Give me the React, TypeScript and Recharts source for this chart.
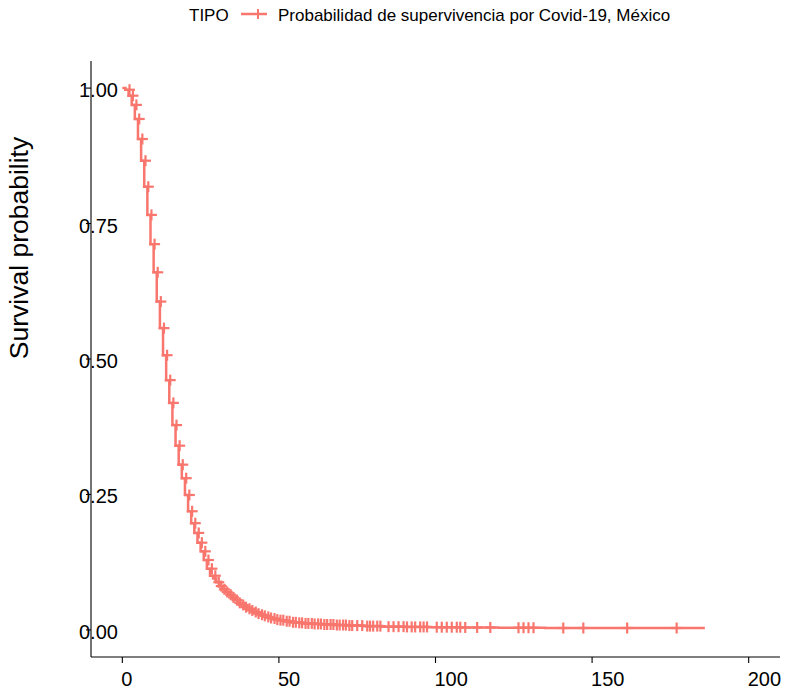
import { ComposedChart, Line, Scatter, XAxis, YAxis } from 'recharts'

// Kaplan-Meier curve (days since onset -> survival)
const days = [
  0, 1, 2, 3, 4, 5, 6, 7, 8, 9, 10, 11, 12, 13, 14, 15, 16, 17, 18, 19, 20,
  21, 22, 23, 24, 25, 26, 27, 28, 29, 30, 31, 32, 33, 34, 35, 36, 37, 38, 39, 40,
  41, 42, 43, 44, 45, 46, 47, 48, 49, 50, 52, 54, 56, 58, 61, 64, 68, 72, 77, 83,
  90, 98, 108, 120, 135, 186,
]
const survival = [
  1.0, 0.997, 0.986, 0.969, 0.943, 0.906, 0.866, 0.818, 0.766, 0.712, 0.66,
  0.606, 0.557, 0.507, 0.461, 0.419, 0.378, 0.34, 0.305, 0.28, 0.249,
  0.219, 0.197, 0.179, 0.161, 0.145, 0.129, 0.113, 0.1, 0.095, 0.088,
  0.081, 0.075, 0.07, 0.065, 0.06, 0.055, 0.05, 0.046, 0.042, 0.039,
  0.036, 0.033, 0.03, 0.028, 0.026, 0.024, 0.022, 0.021, 0.019, 0.018,
  0.016, 0.014, 0.013, 0.012, 0.011, 0.01, 0.009, 0.008, 0.007, 0.006,
  0.0055, 0.005, 0.0045, 0.004, 0.0035, 0.0035,
]
// "+" marks on the steep part: time and level
const censorEarlyDays = [
  2.3, 3.4, 4.5, 5.4, 6.4, 7.4, 8.3, 9.3, 10.3, 11.3, 12.3, 13.3, 14.3, 15.3,
  16.3, 17.3, 18.3, 19.3, 20.4, 21.4, 22.3, 23.3, 24.4, 25.4, 26.5, 27.5, 28.6,
  29.7,
]
const censorEarlySurv = [
  0.997, 0.986, 0.969, 0.943, 0.906, 0.866, 0.818, 0.766, 0.712, 0.66, 0.606,
  0.557, 0.507, 0.461, 0.419, 0.378, 0.34, 0.305, 0.28, 0.249, 0.219, 0.197,
  0.179, 0.161, 0.145, 0.129, 0.113, 0.1,
]
// "+" marks on the flat tail (they sit on the curve)
const censorTailDays = [
  30.8, 31.6, 32.6, 33.5, 34.6, 35.5, 36.6, 37.5, 38.6, 39.5, 40.6, 41.5,
  42.6, 43.5, 44.6, 45.5, 46.6, 47.5, 48.6, 49.5, 50.5, 51.4, 52.5, 53.4, 54.5,
  55.4, 56.5, 57.4, 58.5, 59.4, 60.5, 61.4, 62.5, 63.4, 64.5, 65.4, 66.5, 67.4,
  68.5, 69.4, 70.5, 71.4, 72.5, 73.4, 75.0, 76.6, 78.2, 79.1, 80.1, 81.4, 82.4,
  85.0, 86.6, 88.2, 89.8, 90.9, 92.4, 93.5, 95.1, 96.2, 97.3, 100.4, 102.0,
  103.6, 105.2, 106.8, 107.9, 109.5, 113.3, 117.5, 126.5, 128.1, 129.7, 131.3,
  140.8, 147.2, 161.2, 177.0,
]
const xTicks = [0, 50, 100, 150, 200]
const yTicks = [0, 0.25, 0.5, 0.75, 1]

const RED = '#F8766D'
const FONT = '"Liberation Sans", Arial, Helvetica, sans-serif'

// survival level of the step in force at time t
const survAt = (t: number) => {
  let s = survival[0]
  for (let i = 0; i < days.length; i++) if (days[i] <= t) s = survival[i]
  return s
}

const curve = days.map((t, i) => ({ t, s: survival[i] }))
const censored = [
  ...censorEarlyDays.map((t, i) => ({ t, s: censorEarlySurv[i] })),
  ...censorTailDays.map((t) => ({ t, s: survAt(t) })),
]

const Plus = (props: any) => {
  const { cx, cy } = props
  if (cx == null || cy == null) return null
  return (
    <g stroke={RED} strokeWidth={2.2}>
      <line x1={cx - 5.5} x2={cx + 5.5} y1={cy} y2={cy} />
      <line x1={cx} x2={cx} y1={cy - 5.5} y2={cy + 5.5} />
    </g>
  )
}

const XTick = ({ x, y, payload }: any) => (
  <text x={x - 1} y={y + 21} fontSize={20} fontFamily={FONT} fill="#000" textAnchor="start">
    {payload.value}
  </text>
)

const YTick = ({ y, payload }: any) => (
  <text x={79} y={y + 9} fontSize={20} fontFamily={FONT} fill="#000" textAnchor="start">
    {Number(payload.value).toFixed(2)}
  </text>
)

export default function App() {
  return (
    <div style={{ position: 'absolute', left: 0, top: 0, width: 785, height: 691, background: '#fff' }}>
      <ComposedChart width={785} height={691} margin={{ top: 61, right: 5, bottom: 0, left: 0 }}>
        <XAxis
          dataKey="t"
          type="number"
          domain={[-10, 210]}
          ticks={xTicks}
          height={34}
          tick={<XTick />}
          tickSize={6}
          axisLine={{ stroke: '#000', strokeWidth: 1.1 }}
          tickLine={{ stroke: '#000', strokeWidth: 1.1 }}
          allowDataOverflow
        />
        <YAxis
          dataKey="s"
          type="number"
          domain={[-0.05, 1.05]}
          ticks={yTicks}
          width={91}
          tick={<YTick />}
          tickSize={5}
          axisLine={{ stroke: '#000', strokeWidth: 1.1 }}
          tickLine={{ stroke: '#000', strokeWidth: 1.1 }}
          allowDataOverflow
        />
        <Line
          data={curve}
          dataKey="s"
          type="stepAfter"
          stroke={RED}
          strokeWidth={2.5}
          dot={false}
          isAnimationActive={false}
        />
        <Scatter data={censored} dataKey="s" shape={<Plus />} isAnimationActive={false} />
      </ComposedChart>
      <svg width={785} height={691} style={{ position: 'absolute', left: 0, top: 0, pointerEvents: 'none' }}>
        <text x={189} y={21} fontSize={17} fontFamily={FONT} fill="#000">TIPO</text>
        <line x1={241} x2={267} y1={14} y2={14} stroke={RED} strokeWidth={2.5} />
        <line x1={258} x2={258} y1={9} y2={19} stroke={RED} strokeWidth={2} />
        <text x={278} y={21} fontSize={17} fontFamily={FONT} fill="#000">
          Probabilidad de supervivencia por Covid-19, México
        </text>
        <text
          transform="translate(28,248) rotate(-90)"
          textAnchor="middle"
          fontSize={26.5}
          fontFamily={FONT}
          fill="#000"
        >
          Survival probability
        </text>
      </svg>
    </div>
  )
}
